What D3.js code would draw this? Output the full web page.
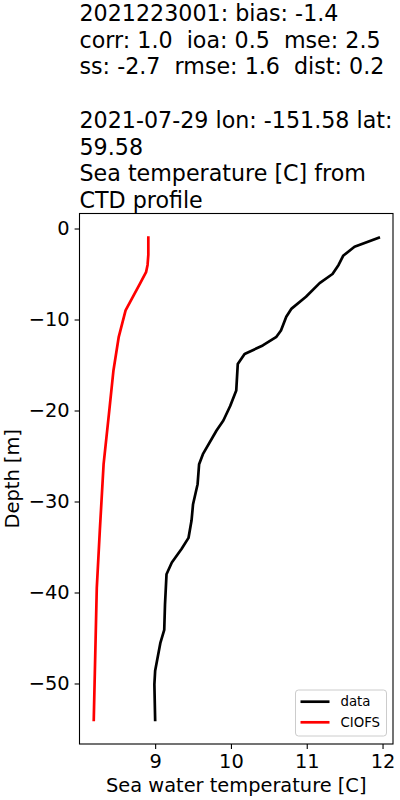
<!DOCTYPE html>
<meta charset="utf-8">
<script src="https://d3js.org/d3.v7.min.js"></script>
<style>
  body { margin: 0; background: #fff; }
  text { font-family: "DejaVu Sans", sans-serif; }
</style>
<div id="chart"></div>
<script>
// Title lines (blank line kept on purpose)
var titleLines = [
    "2021223001: bias: -1.4",
    "corr: 1.0  ioa: 0.5  mse: 2.5",
    "ss: -2.7  rmse: 1.6  dist: 0.2",
    "",
    "2021-07-29 lon: -151.58 lat:",
    "59.58",
    "Sea temperature [C] from",
    "CTD profile"
];

var dataDepth = [-1, -2, -3, -4, -5, -6, -7.5, -8.8, -9.7, -11.2, -11.9, -12.85, -13.8, -14.9,
    -17.8, -19.5, -21.1, -22.2, -24.8, -25.9, -28.1, -30.3, -32.1, -34.0, -35.2, -36.7,
    -38.0, -41.3, -44.1, -45.5, -48.6, -50.1, -54];
var dataTemp = [11.95, 11.63, 11.48, 11.42, 11.34, 11.17, 10.99, 10.80, 10.73, 10.66, 10.60, 10.42,
    10.18, 10.09, 10.07, 9.99, 9.90, 9.81, 9.63, 9.58, 9.56, 9.50, 9.48, 9.44, 9.35, 9.22,
    9.15, 9.13, 9.12, 9.07, 9.00, 8.99, 9.00];

// Model (CIOFS) profile.
var ciofsDepth = [-1, -2.9, -4.0, -4.8, -6.06, -9.0, -11.9, -15.6, -20.4, -25.9, -33.2, -39.5, -54];
var ciofsTemp = [8.91, 8.91, 8.90, 8.88, 8.80, 8.61, 8.52, 8.45, 8.39, 8.32, 8.27, 8.23, 8.19];

var xTicks = [9, 10, 11, 12];
var yTicks = [0, -10, -20, -30, -40, -50];
var seriesNames = ["data", "CIOFS"];
var seriesColors = ["#000000", "#ff0000"];

var width = 400, height = 800;
var plotLeft = 79.5, plotRight = 393, plotTop = 213.5, plotBottom = 744;

function zip(xs, ys) {
    return xs.map(function(d, i) { return { t: d, z: ys[i] }; });
}
var series = [zip(dataTemp, dataDepth), zip(ciofsTemp, ciofsDepth)];

// matplotlib-like 5% margins around the data
function padded(ext) {
    var p = (ext[1] - ext[0]) * 0.05;
    return [ext[0] - p, ext[1] + p];
}
var allT = dataTemp.concat(ciofsTemp);
var allZ = dataDepth.concat(ciofsDepth);

var x = d3.scaleLinear().domain(padded(d3.extent(allT))).range([plotLeft, plotRight]);
var y = d3.scaleLinear().domain(padded(d3.extent(allZ))).range([plotBottom, plotTop]);

var svg = d3.select("#chart").append("svg")
    .attr("width", width)
    .attr("height", height);

// Title block
var title = svg.append("text")
    .attr("x", plotLeft)
    .attr("y", 21)
    .style("font-size", "22.2px")
    .style("white-space", "pre")
    .attr("xml:space", "preserve");
titleLines.forEach(function(line, i) {
    title.append("tspan")
        .attr("x", plotLeft)
        .attr("y", 21 + i * 26.7)
        .text(line === "" ? " " : line);
});

// Lines
var line = d3.line()
    .x(function(d) { return x(d.t); })
    .y(function(d) { return y(d.z); });

svg.append("g").selectAll("path")
    .data(series)
    .enter().append("path")
    .attr("d", line)
    .attr("fill", "none")
    .attr("stroke", function(d, i) { return seriesColors[i]; })
    .attr("stroke-width", 2.7)
    .attr("stroke-linejoin", "round")
    .attr("stroke-linecap", "square");

// Axes
var xAxis = svg.append("g")
    .attr("transform", "translate(0," + plotBottom + ")")
    .call(d3.axisBottom(x).tickValues(xTicks).tickSize(4.9).tickPadding(4.9).tickFormat(d3.format("d")));
var yAxis = svg.append("g")
    .attr("transform", "translate(" + plotLeft + ",0)")
    .call(d3.axisLeft(y).tickValues(yTicks).tickSize(4.9).tickPadding(4.9).tickFormat(d3.format("d")));

[xAxis, yAxis].forEach(function(a) {
    a.select(".domain").remove();
    a.selectAll("text")
        .style("font-family", "DejaVu Sans, sans-serif")
        .style("font-size", "19.4px")
        .attr("fill", "#000");
    a.selectAll("line").attr("stroke", "#000").attr("stroke-width", 1.1);
});

// Frame
svg.append("rect")
    .attr("x", plotLeft)
    .attr("y", plotTop)
    .attr("width", plotRight - plotLeft)
    .attr("height", plotBottom - plotTop)
    .attr("fill", "none")
    .attr("stroke", "#000")
    .attr("stroke-width", 1.1);

// Axis labels
svg.append("text")
    .attr("x", (plotLeft + plotRight) / 2)
    .attr("y", 792)
    .attr("text-anchor", "middle")
    .style("font-size", "19.4px")
    .text("Sea water temperature [C]");

svg.append("text")
    .attr("transform", "translate(19," + ((plotTop + plotBottom) / 2) + ") rotate(-90)")
    .attr("text-anchor", "middle")
    .style("font-size", "19.4px")
    .text("Depth [m]");

// Legend
var legend = svg.append("g").attr("transform", "translate(295.5,690)");
legend.append("rect")
    .attr("width", 91)
    .attr("height", 46)
    .attr("rx", 3)
    .attr("fill", "#fff")
    .attr("fill-opacity", 0.8)
    .attr("stroke", "#cccccc");
seriesNames.forEach(function(name, i) {
    var row = legend.append("g").attr("transform", "translate(0," + (11.7 + i * 20.6) + ")");
    row.append("line")
        .attr("x1", 5).attr("x2", 34)
        .attr("stroke", seriesColors[i])
        .attr("stroke-width", 2.7);
    row.append("text")
        .attr("x", 45)
        .attr("dy", "0.35em")
        .style("font-size", "13.3px")
        .text(name);
});
</script>
